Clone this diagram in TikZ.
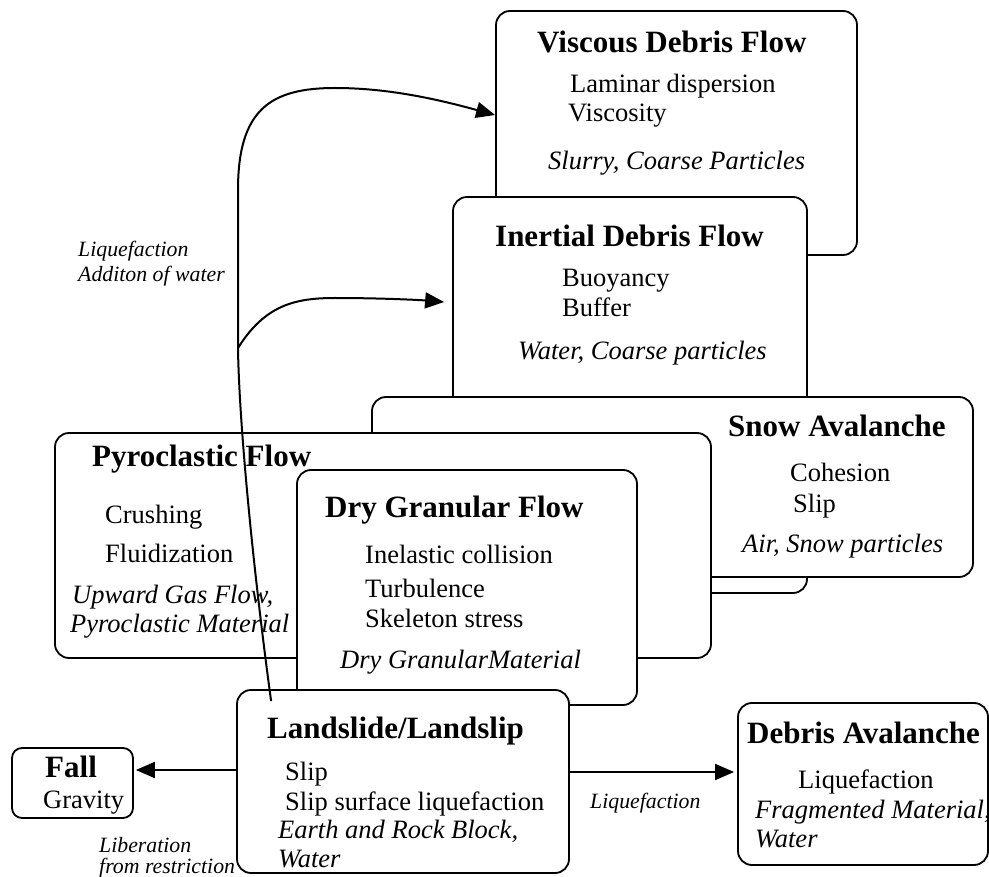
\documentclass[tikz,border=0pt]{standalone}
\usepackage{fontspec}
\setmainfont{Liberation Serif}
\usetikzlibrary{arrows.meta}
\tikzset{
  box/.style={draw, fill=white, rounded corners=14pt, line width=1.8pt, inner sep=0pt},
  tt/.style={anchor=base west, inner sep=0pt, font=\fontsize{31}{36}\selectfont\bfseries},
  rt/.style={anchor=base west, inner sep=0pt, font=\fontsize{26.5}{30}\selectfont},
  it/.style={anchor=base west, inner sep=0pt, font=\fontsize{26.5}{30}\selectfont\itshape},
  lb/.style={anchor=base west, inner sep=0pt, font=\fontsize{21.8}{25}\selectfont\itshape},
  arr/.style={line width=2pt, -{Triangle[length=19pt,width=16pt]}},
  ln/.style={line width=2pt}
}
\newcommand\tx[4]{\node[#2] (#1) at (#3) {#4};}
\begin{document}
\begin{tikzpicture}[x=1pt,y=-1pt]
\useasboundingbox (0,0) rectangle (989,877);
% Viscous Debris Flow
\node[box, minimum width=361pt, minimum height=244pt] (visc) at (676.5,133) {};
\tx{vt}{tt}{537,53}{Viscous Debris Flow}
\tx{v1}{rt}{570,93}{Laminar dispersion}
\tx{v2}{rt}{568,122}{Viscosity}
\tx{v3}{it}{548,170}{Slurry, Coarse Particles}
% Inertial Debris Flow
\node[box, minimum width=354pt, minimum height=396pt] (iner) at (630,395) {};
\tx{it0}{tt}{495,247}{Inertial Debris Flow}
\tx{i1}{rt}{562,287}{Buoyancy}
\tx{i2}{rt}{562,317}{Buffer}
\tx{i3}{it}{518,360}{Water, Coarse particles}
% Snow Avalanche
\node[box, minimum width=601pt, minimum height=180pt] (snow) at (672.5,487) {};
\tx{st}{tt}{728,437}{Snow Avalanche}
\tx{s1}{rt}{790,482}{Cohesion}
\tx{s2}{rt}{793,512}{Slip}
\tx{s3}{it}{742,552}{Air, Snow particles}
% Pyroclastic Flow
\node[box, minimum width=656pt, minimum height=225pt] (pyro) at (383,545.5) {};
\tx{pt}{tt}{92,467}{Pyroclastic Flow}
\tx{p1}{rt}{105,523}{Crushing}
\tx{p2}{rt}{105,562}{Fluidization}
\tx{p3}{it}{72,603}{Upward Gas Flow,}
\tx{p4}{it}{70,632}{Pyroclastic Material}
% Dry Granular Flow
\node[box, minimum width=340pt, minimum height=235pt] (dry) at (467,587.5) {};
\tx{dt}{tt}{325,518}{Dry Granular Flow}
\tx{d1}{rt}{365,563}{Inelastic collision}
\tx{d2}{rt}{365,597}{Turbulence}
\tx{d3}{rt}{365,627}{Skeleton stress}
\tx{d4}{it}{340,668}{Dry GranularMaterial}
% Landslide/Landslip
\node[box, minimum width=332pt, minimum height=183pt] (land) at (403,781.5) {};
\tx{lt}{tt}{267,738}{Landslide/Landslip}
\tx{l1}{rt}{285,780}{Slip}
\tx{l2}{rt}{285,810}{Slip surface liquefaction}
\tx{l3}{it}{278,838}{Earth and Rock Block,}
\tx{l4}{it}{278,867}{Water}
% Fall
\node[box, rounded corners=10pt, minimum width=121pt, minimum height=70pt] (fall) at (72.5,783) {};
\tx{ft}{tt}{45,777}{Fall}
\tx{f1}{rt}{43,808}{Gravity}
% Debris Avalanche
\node[box, minimum width=250pt, minimum height=162pt] (deb) at (863,784) {};
\tx{bt}{tt}{747,743}{Debris Avalanche}
\tx{b1}{rt}{798,788}{Liquefaction}
\tx{b2}{it}{755,818}{Fragmented Material,}
\tx{b3}{it}{755,847}{Water}
% labels
\tx{la1}{lb}{78,257}{Liquefaction}
\tx{la2}{lb}{78,282}{Additon of water}
\tx{la3}{lb}{590,808}{Liquefaction}
\tx{la4}{lb}{99,852}{Liberation}
\tx{la5}{lb}{99,873}{from restriction}
% connectors
\coordinate (j) at (238,348);
\draw[ln] ([xshift=35pt,yshift=-12pt]land.north west) .. controls (252,560) and (239,420) .. (j);
\draw[arr] (j) -- (238,190) .. controls (238,110) and (270,88) .. (335,88)
  .. controls (390,88) and (440,100) .. ([yshift=18pt]visc.west);
\draw[arr] (j) .. controls (265,305) and (295,298) .. (335,298)
  .. controls (380,298) and (420,300) .. ([xshift=-8pt,yshift=93pt]iner.west);
\draw[arr] ([yshift=11.5pt]land.west) -- ([xshift=2pt,yshift=13pt]fall.east);
\draw[arr] ([yshift=9.5pt]land.east) -- ([xshift=-3pt,yshift=12pt]deb.west);
\end{tikzpicture}
\end{document}
